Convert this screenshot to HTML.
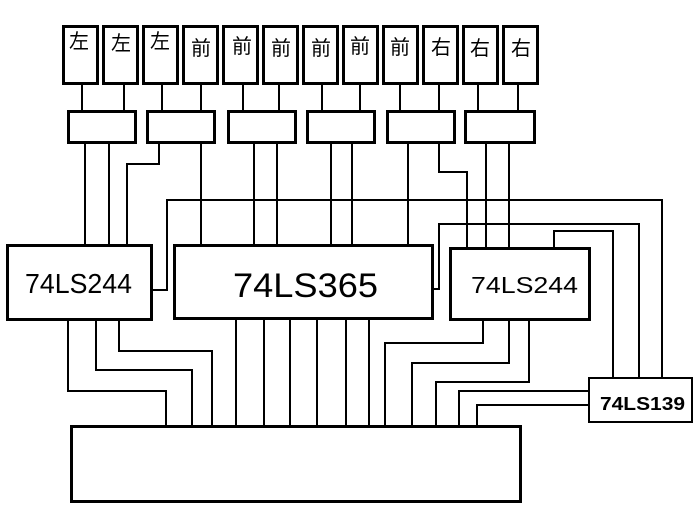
<!DOCTYPE html>
<html>
<head>
<meta charset="utf-8">
<style>
html,body{margin:0;padding:0;background:#fff;}
svg{display:block;}
</style>
</head>
<body>
<svg width="700" height="520" viewBox="0 0 700 520" xmlns="http://www.w3.org/2000/svg">
<rect x="0" y="0" width="700" height="520" fill="#fff"/>
<g fill="none" stroke="#000" stroke-width="2" shape-rendering="crispEdges">
  <!-- top box to small box -->
  <line x1="82" y1="84" x2="82" y2="111"/>
  <line x1="124" y1="84" x2="124" y2="111"/>
  <line x1="162" y1="84" x2="162" y2="111"/>
  <line x1="201" y1="84" x2="201" y2="111"/>
  <line x1="243" y1="84" x2="243" y2="111"/>
  <line x1="279" y1="84" x2="279" y2="111"/>
  <line x1="322" y1="84" x2="322" y2="111"/>
  <line x1="360" y1="84" x2="360" y2="111"/>
  <line x1="400" y1="84" x2="400" y2="111"/>
  <line x1="439" y1="84" x2="439" y2="111"/>
  <line x1="478" y1="84" x2="478" y2="111"/>
  <line x1="518" y1="84" x2="518" y2="111"/>
  <!-- small boxes down -->
  <line x1="85" y1="143" x2="85" y2="245"/>
  <line x1="109" y1="143" x2="109" y2="245"/>
  <polyline points="159,143 159,164 127,164 127,245"/>
  <line x1="201" y1="143" x2="201" y2="245"/>
  <line x1="254" y1="143" x2="254" y2="245"/>
  <line x1="277" y1="143" x2="277" y2="245"/>
  <line x1="331" y1="143" x2="331" y2="245"/>
  <line x1="352" y1="143" x2="352" y2="245"/>
  <line x1="408" y1="143" x2="408" y2="245"/>
  <polyline points="439,143 439,172 467,172 467,248"/>
  <line x1="486" y1="143" x2="486" y2="248"/>
  <line x1="509" y1="143" x2="509" y2="248"/>
  <!-- long feedback lines -->
  <polyline points="152,290 167,290 167,200 662,200 662,378"/>
  <polyline points="433,289 439,289 439,224 639,224 639,378"/>
  <polyline points="554,248 554,231 613,231 613,378"/>
  <!-- left 74LS244 bottom -->
  <polyline points="68,320 68,391 166,391 166,426"/>
  <polyline points="96,320 96,370 192,370 192,426"/>
  <polyline points="119,320 119,351 212,351 212,426"/>
  <!-- 74LS365 bottom -->
  <line x1="236" y1="319" x2="236" y2="426"/>
  <line x1="264" y1="319" x2="264" y2="426"/>
  <line x1="290" y1="319" x2="290" y2="426"/>
  <line x1="317" y1="319" x2="317" y2="426"/>
  <line x1="346" y1="319" x2="346" y2="426"/>
  <line x1="369" y1="319" x2="369" y2="426"/>
  <!-- right 74LS244 bottom -->
  <polyline points="483,320 483,343 385,343 385,426"/>
  <polyline points="509,320 509,363 412,363 412,426"/>
  <polyline points="529,320 529,382 436,382 436,426"/>
  <!-- 74LS139 outputs -->
  <polyline points="589,391 459,391 459,426"/>
  <polyline points="589,405 477,405 477,426"/>
</g>
<g fill="#fff" stroke="#000" stroke-width="3" shape-rendering="crispEdges">
  <!-- top boxes -->
  <rect x="63.5" y="26.5" width="34" height="57"/>
  <rect x="103.5" y="26.5" width="34" height="57"/>
  <rect x="143.5" y="26.5" width="34" height="57"/>
  <rect x="183.5" y="26.5" width="34" height="57"/>
  <rect x="223.5" y="26.5" width="34" height="57"/>
  <rect x="263.5" y="26.5" width="34" height="57"/>
  <rect x="303.5" y="26.5" width="34" height="57"/>
  <rect x="343.5" y="26.5" width="34" height="57"/>
  <rect x="383.5" y="26.5" width="34" height="57"/>
  <rect x="423.5" y="26.5" width="34" height="57"/>
  <rect x="463.5" y="26.5" width="34" height="57"/>
  <rect x="503.5" y="26.5" width="34" height="57"/>
  <!-- small boxes -->
  <rect x="68.5" y="111.5" width="67" height="31"/>
  <rect x="147.5" y="111.5" width="67" height="31"/>
  <rect x="228.5" y="111.5" width="67" height="31"/>
  <rect x="307.5" y="111.5" width="67" height="31"/>
  <rect x="387.5" y="111.5" width="67" height="31"/>
  <rect x="465.5" y="111.5" width="69" height="31"/>
  <!-- main chips -->
  <rect x="7.5" y="245.5" width="144" height="74"/>
  <rect x="174.5" y="245.5" width="258" height="73"/>
  <rect x="450.5" y="248.5" width="139" height="71"/>
  <!-- bottom box -->
  <rect x="71.5" y="426.5" width="449" height="75"/>
</g>
<rect x="589" y="378" width="103" height="44" fill="#fff" stroke="#000" stroke-width="2" shape-rendering="crispEdges"/>
<g font-family="'Liberation Sans', sans-serif" fill="#000">
  <text x="25" y="293" font-size="28" textLength="107" lengthAdjust="spacingAndGlyphs">74LS244</text>
  <text x="233" y="297" font-size="34" textLength="145" lengthAdjust="spacingAndGlyphs">74LS365</text>
  <text x="471" y="293" font-size="23" textLength="107" lengthAdjust="spacingAndGlyphs">74LS244</text>
  <text x="600" y="410" font-size="18" font-weight="bold" textLength="85" lengthAdjust="spacingAndGlyphs">74LS139</text>
</g>
<g font-family="'Liberation Sans','Noto Sans CJK SC','WenQuanYi Zen Hei',sans-serif" font-size="20" fill="#000" text-anchor="middle">
  <text x="79" y="48">左</text>
  <text x="121" y="50">左</text>
  <text x="160" y="48">左</text>
  <text x="201" y="55">前</text>
  <text x="242" y="53">前</text>
  <text x="281" y="55">前</text>
  <text x="321" y="55">前</text>
  <text x="360" y="53">前</text>
  <text x="400" y="54">前</text>
  <text x="441" y="54">右</text>
  <text x="480" y="55">右</text>
  <text x="521" y="55">右</text>
</g>
</svg>
</body>
</html>
